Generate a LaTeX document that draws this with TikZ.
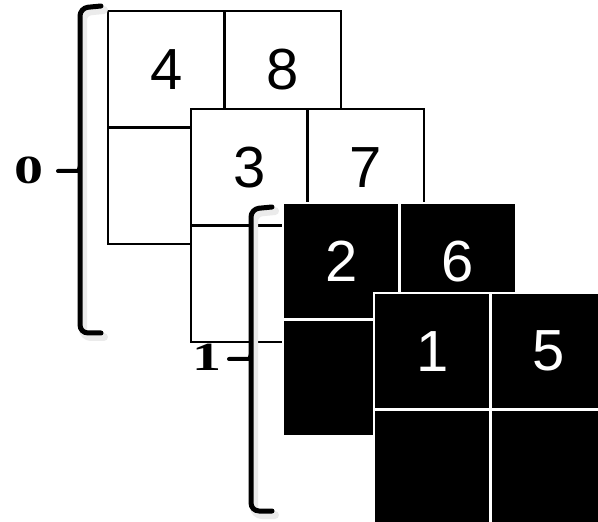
\documentclass[tikz,border=0pt]{standalone}
\usepackage{fontspec}
\setmainfont{Liberation Sans}
\newfontfamily\labelfont{Liberation Serif}
\usetikzlibrary{positioning}
\tikzset{
  cellbox/.style={rectangle, minimum size=58.25pt, inner sep=0pt, outer sep=0pt,
    font=\fontsize{29}{30}\selectfont},
  whitecell/.style={cellbox, draw=black, line width=1.2pt, fill=white},
  blackcell/.style={cellbox, draw=white, line width=1.4pt, fill=black, text=white},
  bracket/.style={line width=2.5pt, line cap=round, line join=round, rounded corners=4pt},
  bracketshadow/.style={bracket, line width=4pt, draw=black!8, shift={(3,4)}},
  bracketlabel/.style={font=\labelfont\bfseries\fontsize{20}{22}\selectfont}
}
\newcommand{\widedigit}[1]{\scalebox{1.45}[1]{#1}}
\begin{document}
\begin{tikzpicture}[x=0.5pt, y=-0.5pt, node distance=0pt]
\useasboundingbox (0,0) rectangle (598,522);
\clip (0,0) rectangle (598,522);
% first white map
\node[whitecell, anchor=north west] (a1) at (108,11) {4};
\node[whitecell, right=of a1] (a2) {8};
\node[whitecell, below=of a1] (a3) {};
\node[whitecell, right=of a3] (a4) {};
% second white map
\node[whitecell, anchor=north west] (b1) at (191,109) {3};
\node[whitecell, right=of b1] (b2) {7};
\node[whitecell, below=of b1] (b3) {};
\node[whitecell, right=of b3] (b4) {};
% first black map
\node[blackcell, anchor=north west] (c1) at (283,203) {2};
\node[blackcell, right=of c1] (c2) {6};
\node[blackcell, below=of c1] (c3) {};
\node[blackcell, right=of c3] (c4) {};
% second black map
\node[blackcell, anchor=north west] (d1) at (374,293) {1};
\node[blackcell, right=of d1] (d2) {5};
\node[blackcell, below=of d1] (d3) {};
\node[blackcell, right=of d3] (d4) {};

% brackets
\draw[bracketshadow] (101,6) -- (80,8) -- (80,333) -- (101,333);
\draw[bracket] (101,6) -- (80,8) -- (80,333) -- (101,333);
\draw[bracket, line width=2pt] (58,171) -- (72,171) .. controls (77,171) and (80,169) .. (80,166);
\node[bracketlabel] (lab0) at (28.5,170) {\widedigit{0}};

\draw[bracketshadow] (272,207) -- (251,209) -- (251,511) -- (272,511);
\draw[bracket] (272,207) -- (251,209) -- (251,511) -- (272,511);
\draw[bracket, line width=2pt] (229,359) -- (243,359) .. controls (248,359) and (251,357) .. (251,354);
\node[bracketlabel] (lab1) at (207,357) {\widedigit{1}};
\end{tikzpicture}
\end{document}
